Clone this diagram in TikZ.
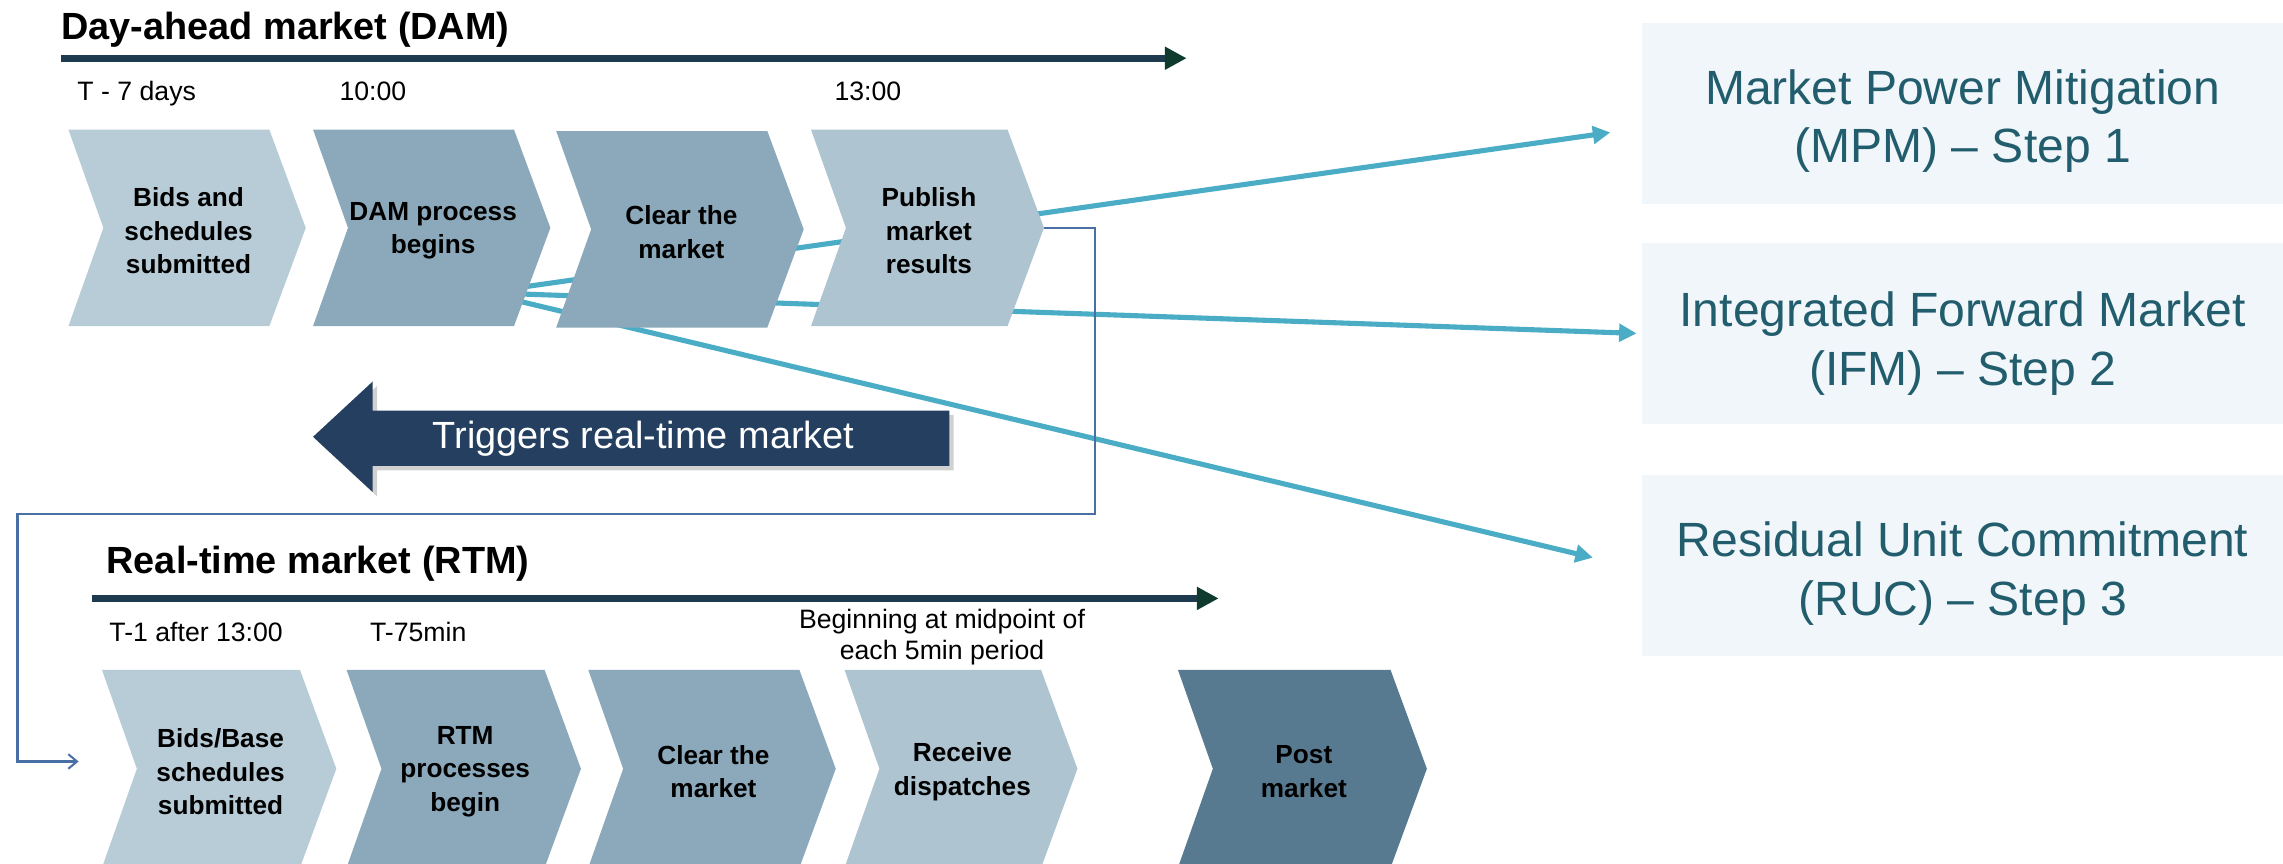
\documentclass[tikz,border=0pt]{standalone}
\usepackage{fontspec}
\setmainfont{Liberation Sans}
\usetikzlibrary{arrows.meta}
\definecolor{chevA}{HTML}{B8CCD8}
\definecolor{chevB}{HTML}{8BA9BB}
\definecolor{chevC}{HTML}{AEC4D1}
\definecolor{chevD}{HTML}{587A90}
\definecolor{trigblue}{HTML}{243F5F}
\definecolor{tealline}{HTML}{4BACC6}
\definecolor{boxfill}{HTML}{F1F6FA}
\definecolor{boxtext}{HTML}{215D6C}
\definecolor{tlcol}{HTML}{1D3A4E}
\definecolor{tlhead}{HTML}{0F3A2E}
\definecolor{conncol}{HTML}{4A6FA5}
\newcommand\mychev[7]{%
  \fill[#6] (#2,#4) -- ({#3-25},#4) -- (#3,{(#4+#5)/2}) -- ({#3-25},#5) -- (#2,#5) -- ({#2+24},{(#4+#5)/2}) -- cycle;
  \coordinate (#1-tip) at (#3,{(#4+#5)/2});
  \node[chevtext] (#1) at ({(#2+#3)/2+1},{(#4+#5)/2+2}) {#7};}
\begin{document}
\begin{tikzpicture}[x=1pt,y=-1pt,
  chevtext/.style={font=\bfseries\fontsize{18}{23}\selectfont,align=center,text=black,inner sep=0pt},
  title/.style={font=\bfseries\fontsize{26}{30}\selectfont,anchor=base west,inner sep=0pt},
  stamp/.style={font=\fontsize{18.3}{21}\selectfont,anchor=base west,inner sep=0pt},
  stepbox/.style={fill=boxfill,minimum width=440pt,minimum height=124pt,inner sep=0pt},
  steptext/.style={align=center,text=boxtext,inner sep=0pt,font=\fontsize{33}{40}\selectfont},
  tealarrow/.style={draw=tealline,line width=3.5pt,-{Triangle[length=12pt,width=12pt]}},
  timeline/.style={draw=tlcol,line width=4.5pt,-{Triangle[length=15pt,width=15pt,color=tlhead]}},
  conn/.style={draw=conncol,line width=1.6pt,-{Straight Barb[length=6pt,width=10pt,line width=1.4pt]}}]
\useasboundingbox (0,0) rectangle (1568,593);

% right boxes
\node[stepbox] (mpm) at (1348,78) {};
\node[steptext] (mpmt) at (1348,83) {Market Power Mitigation\\(MPM) -- Step 1};
\node[stepbox] (ifm) at (1348,229) {};
\node[steptext] (ifmt) at (1348,236) {Integrated Forward Market\\(IFM) -- Step 2};
\node[stepbox] (ruc) at (1348,388.5) {};
\node[steptext] (ruct) at (1348,394) {Residual Unit Commitment\\(RUC) -- Step 3};

% teal connectors (behind the chevrons)
\coordinate (src) at (332,201);
\coordinate (mpmtip) at (1106,91);
\coordinate (ifmtip) at (1124,229);
\coordinate (ructip) at (1094,383);
\draw[tealarrow] (src) -- (mpmtip);
\draw[tealarrow] (src) -- (ifmtip);
\draw[tealarrow] (src) -- (ructip);

% DAM
\node[title] (damtitle) at (42,27) {Day-ahead market (DAM)};
\coordinate (damtl0) at (42,40);
\coordinate (damtl1) at (815,40);
\draw[timeline] (damtl0) -- (damtl1);
\node[stamp] (s1) at (53,69) {T - 7 days};
\node[stamp] (s2) at (233,69) {10:00};
\node[stamp] (s3) at (573,69) {13:00};

\mychev{dam1}{47}{210}{89}{224}{chevA}{Bids and\\schedules\\submitted}
\mychev{dam2}{215}{378}{89}{224}{chevB}{DAM process\\begins}
\mychev{dam3}{382}{552}{90}{225}{chevB}{Clear the\\market}
\mychev{dam4}{557}{717}{89}{224}{chevC}{Publish\\market\\results}

% triggers arrow
\fill[black!18] (218,303) -- (259,265) -- (259,285) -- (655,285) -- (655,323) -- (259,323) -- (259,341) -- cycle;
\fill[trigblue] (215,300) -- (256,262) -- (256,282) -- (652,282) -- (652,320) -- (256,320) -- (256,338) -- cycle;
\node[font=\fontsize{26}{30}\selectfont,text=white,inner sep=0pt] (trig) at (442,301) {Triggers real-time market};

% RTM
\node[title] (rtmtitle) at (73,394) {Real-time market (RTM)};
\coordinate (rtmtl0) at (63,411);
\coordinate (rtmtl1) at (837,411);
\draw[timeline] (rtmtl0) -- (rtmtl1);
\node[stamp] (r1) at (75,440.5) {T-1 after 13:00};
\node[stamp] (r2) at (254,440.5) {T-75min};
\node[font=\fontsize{18.3}{21.5}\selectfont,align=center,inner sep=0pt,anchor=base] (r3) at (647,453) {Beginning at midpoint of\\each 5min period};

\mychev{rtm1}{70}{231}{460}{596}{chevA}{Bids/Base\\schedules\\submitted}
\mychev{rtm2}{238}{399}{460}{596}{chevB}{RTM\\processes\\begin}
\mychev{rtm3}{404}{574}{460}{596}{chevB}{Clear the\\market}
\mychev{rtm4}{580}{740}{460}{596}{chevC}{Receive\\dispatches}
\mychev{rtm5}{809}{980}{460}{596}{chevD}{Post\\market}

% trigger connector
\coordinate (rtmin) at (54,523);
\draw[conn] (dam4-tip) -- (752,156.5) -- (752,353) -- (12,353) |- (rtmin);
\end{tikzpicture}
\end{document}
